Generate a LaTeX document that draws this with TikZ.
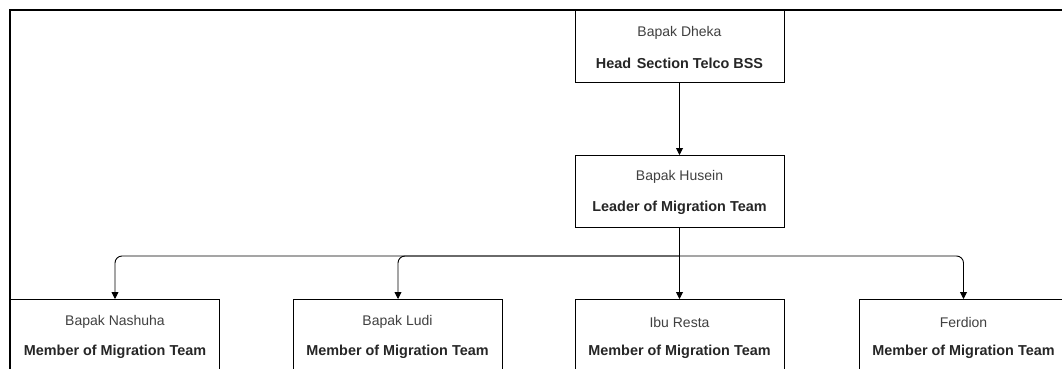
\documentclass[tikz,border=0pt]{standalone}
\usepackage{fontspec}
\setmainfont{Liberation Sans}
\usetikzlibrary{arrows.meta,positioning}
\begin{document}
\begin{tikzpicture}[x=1pt,y=1pt,
  box/.style={draw=black,line width=1pt,minimum width=209pt,minimum height=72pt,inner sep=0pt,anchor=north},
  nm/.style={font=\fontsize{14}{16}\selectfont,text=black!75},
  ttl/.style={font=\fontsize{14.4}{16}\selectfont\bfseries,text=black!85},
  arr/.style={draw=black,line width=0.9pt,rounded corners=7pt,-{Triangle[length=7pt,width=7pt]}}]
\useasboundingbox (0,0) rectangle (1062,-369);
\clip (0,0) rectangle (1062,-369);
\fill[white] (0,0) rectangle (1062,-369);
% outer frame
\draw[line width=1.6pt] (10,-400) -- (10,-10) -- (1100,-10);
% boxes
\node[box] (dheka) at (679.5,-10) {};
\node[box] (husein) at (679.5,-155) {};
\node[box] (nashuha) at (115,-299) {};
\node[box] (ludi) at (397.5,-299) {};
\node[box] (resta) at (679.5,-299) {};
\node[box] (ferdion) at (963.5,-299) {};
% texts
\node[nm] (t1a) at ([yshift=-23pt]dheka.north) {Bapak Dheka};
\node[ttl] (t1b) at ([yshift=-53pt]dheka.north) {Head\hspace{0.12em} Section Telco BSS};
\node[nm] (t2a) at ([yshift=-22pt]husein.north) {Bapak Husein};
\node[ttl] (t2b) at ([yshift=-53pt]husein.north) {Leader of Migration Team};
\node[nm] (t3a) at ([yshift=-23pt]nashuha.north) {Bapak Nashuha};
\node[ttl] (t3b) at ([yshift=-53pt]nashuha.north) {Member of Migration Team};
\node[nm] (t4a) at ([yshift=-23pt]ludi.north) {Bapak Ludi};
\node[ttl] (t4b) at ([yshift=-53pt]ludi.north) {Member of Migration Team};
\node[nm] (t5a) at ([yshift=-23pt]resta.north) {Ibu Resta};
\node[ttl] (t5b) at ([yshift=-53pt]resta.north) {Member of Migration Team};
\node[nm] (t6a) at ([yshift=-23pt]ferdion.north) {Ferdion};
\node[ttl] (t6b) at ([yshift=-53pt]ferdion.north) {Member of Migration Team};
% connectors
\coordinate (j) at ([yshift=-28pt]husein.south);
\draw[arr] (dheka.south) -- (husein.north);
\draw[arr] (husein.south) -- (resta.north);
\draw[arr] (j) -| (nashuha.north);
\draw[arr] (j) -| ([xshift=0.5pt]ludi.north);
\draw[arr] (j) -| (ferdion.north);
\end{tikzpicture}
\end{document}
